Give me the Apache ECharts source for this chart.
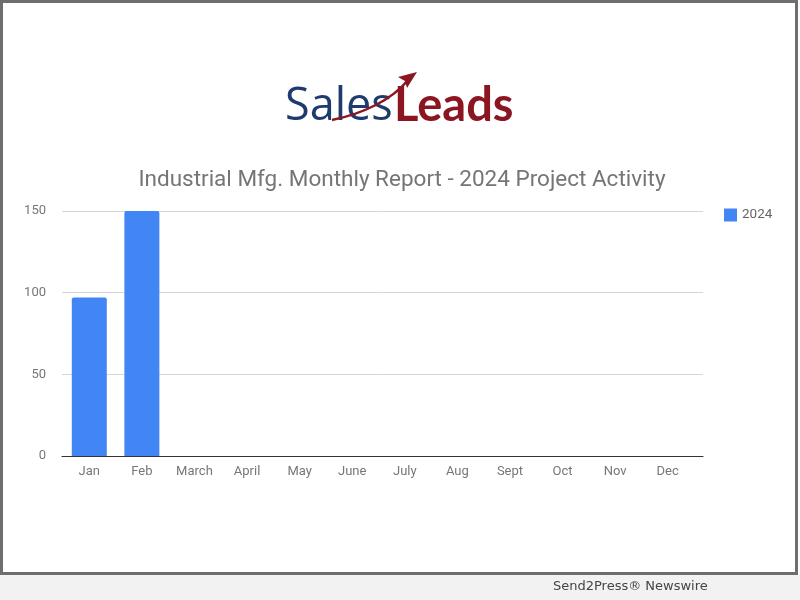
<!DOCTYPE html>
<html>
<head>
<meta charset="utf-8">
<script src="https://cdn.jsdelivr.net/npm/echarts@6/dist/echarts.min.js"></script>
<style>
html,body{margin:0;padding:0;background:#fff;}
#c{width:800px;height:600px;}
</style>
</head>
<body>
<div id="c"></div>
<script>
var categories = ['Jan','Feb','March','April','May','June','July','Aug','Sept','Oct','Nov','Dec'];
var values2024 = [97, 150, null, null, null, null, null, null, null, null, null, null];
var seriesName = '2024';
var yTicks = [0, 50, 100, 150];

var chart = echarts.init(document.getElementById('c'), null, {renderer: 'canvas'});
var yMin = yTicks[0], yMax = yTicks[yTicks.length - 1];
var option = {
  backgroundColor: '#ffffff',
  animation: false,
  title: {
    text: 'Industrial Mfg. Monthly Report - 2024 Project Activity',
    left: 397, top: 164, textAlign: 'center',
    textStyle: {fontFamily: 'Roboto', fontWeight: 'normal', fontSize: 22.5, color: '#757575'}
  },
  legend: {
    data: [seriesName], left: 719, top: 203,
    icon: 'rect', itemWidth: 13, itemHeight: 13, itemGap: 8,
    textStyle: {fontFamily: 'Roboto', fontSize: 13.5, color: '#666'}
  },
  grid: [
    {left: 63, right: 106, top: 211, bottom: 144},
    {left: 62, right: 97, top: 211, bottom: 144}
  ],
  xAxis: [
    {
      type: 'category', data: categories, gridIndex: 0,
      axisLine: {show: false},
      axisTick: {show: false},
      axisLabel: {fontFamily: 'Roboto', fontSize: 13, color: '#777', margin: 9, interval: 0}
    },
    {
      type: 'value', gridIndex: 1, min: 0, max: 1,
      axisLine: {show: true, lineStyle: {color: '#333', width: 1.2}},
      axisTick: {show: false}, axisLabel: {show: false}, splitLine: {show: false}
    }
  ],
  yAxis: [
    {
      type: 'value', gridIndex: 0, min: yMin, max: yMax, interval: 50,
      axisLine: {show: false}, axisTick: {show: false},
      axisLabel: {show: false}, splitLine: {show: false}
    },
    {
      type: 'value', gridIndex: 1, min: yMin, max: yMax, interval: 50,
      axisLine: {show: false}, axisTick: {show: false},
      axisLabel: {fontFamily: 'Roboto', fontSize: 13, color: '#777', margin: 16},
      splitLine: {lineStyle: {color: '#d6d6d6'}}
    }
  ],
  series: [{
    name: seriesName, type: 'bar', data: values2024,
    xAxisIndex: 0, yAxisIndex: 0,
    barWidth: 35, z: 5,
    itemStyle: {color: '#4285f4', borderRadius: [2,2,0,0]}
  }],
  graphic: [
    {type: 'rect', z: -10, shape: {x: 0, y: 575, width: 800, height: 25}, style: {fill: '#f2f2f2'}},
    {type: 'rect', z: 100, shape: {x: 1.5, y: 1.5, width: 795, height: 572}, style: {fill: null, stroke: '#6e6e6e', lineWidth: 3}},
    {type: 'text', z: 20, style: {text: 'Send2Press® Newswire', x: 553, y: 587, textVerticalAlign: 'middle', font: '13px "DejaVu Sans"', fill: '#444'}},
    {type: 'text', z: 20, style: {text: 'Sales', x: 285, y: 130, textVerticalAlign: 'bottom', font: '45px "Open Sans"', fill: '#1d3b6c'}},
    {type: 'text', z: 20, style: {text: 'Leads', x: 394, y: 129, textVerticalAlign: 'bottom', font: 'bold 47px "Lato"', fill: '#8c1522'}},
    {type: 'bezierCurve', z: 21, shape: {x1: 332, y1: 120, cpx1: 362, cpy1: 114, cpx2: 392, cpy2: 100, x2: 408, y2: 80}, style: {stroke: '#8c1522', lineWidth: 2.5, fill: null}},
    {type: 'polygon', z: 21, shape: {points: [[417, 72], [398, 77], [405, 81], [407, 88]]}, style: {fill: '#8c1522'}}
  ]
};
chart.setOption(option);
</script>
</body>
</html>
